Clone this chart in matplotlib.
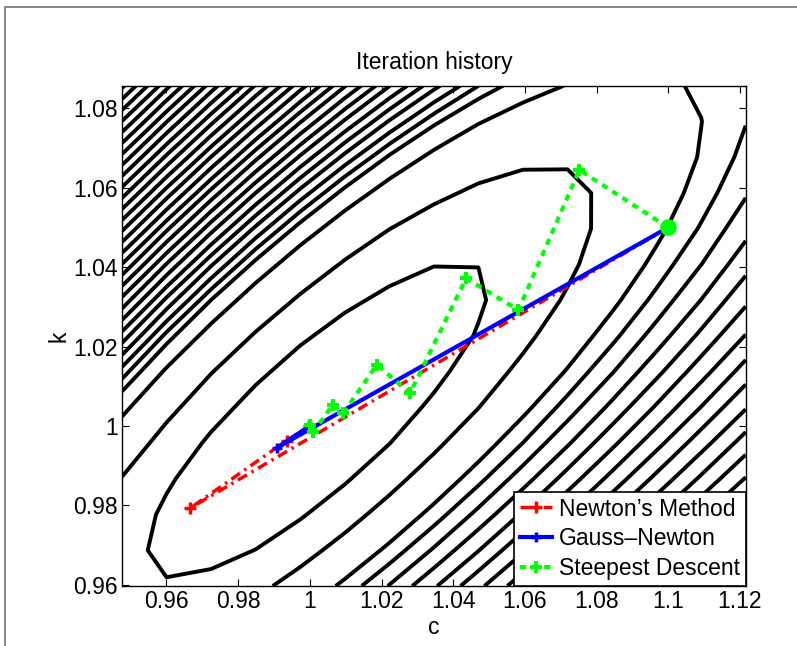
import numpy as np
import matplotlib
matplotlib.use('Agg')
import matplotlib.pyplot as plt
from matplotlib.patches import Rectangle

plt.rcParams['font.family'] = ['Liberation Sans', 'DejaVu Sans']

# iteration histories (c, k)
newton_c = [1.1, 0.9666, 0.9935, 0.9999, 1.0]
newton_k = [1.05, 0.9793, 0.9963, 1.0, 1.0]
gn_c = [1.1, 0.9908, 0.9998, 1.0]
gn_k = [1.05, 0.9945, 0.9999, 1.0]
sd_c = [1.1, 1.0752, 1.0582, 1.0436, 1.028, 1.0187, 1.0093, 1.0064, 1.001, 1.0]
sd_k = [1.05, 1.0645, 1.0292, 1.0372, 1.0083, 1.0154, 1.0032, 1.0053, 0.9986, 1.0003]

# k where the contour lines meet the left edge of the plot
edge_k = [0.99575, 0.99902, 1.00229, 1.00556, 1.00871, 1.01186, 1.01488, 1.0179,
          1.02092, 1.02381, 1.02671, 1.0296, 1.0325, 1.03527, 1.03804, 1.04081,
          1.04357, 1.04634, 1.04911, 1.05188, 1.05465, 1.05742, 1.06019, 1.06296,
          1.06573, 1.0685, 1.07126, 1.07403, 1.0768, 1.07957, 1.08234, 1.08511]
# points on the inner contour and on the one through the start point
inner_pt = (0.9535, 0.969)
start_pt = (1.1, 1.05)

c_lim = (0.9476, 1.1216)
k_lim = (0.9597, 1.0857)
x_ticks = [0.96, 0.98, 1.0, 1.02, 1.04, 1.06, 1.08, 1.1, 1.12]
x_labels = ['0.96', '0.98', '1', '1.02', '1.04', '1.06', '1.08', '1.1', '1.12']
y_ticks = [0.96, 0.98, 1.0, 1.02, 1.04, 1.06, 1.08]
y_labels = ['0.96', '0.98', '1', '1.02', '1.04', '1.06', '1.08']


# spring model x'' + c x' + k x = 0, x(0)=2, x'(0)=0
def spring(c, k, t):
    w = np.sqrt(np.maximum(k - c**2 / 4, 1e-9))
    return np.exp(-c * t / 2) * (2 * np.cos(w * t) + c / w * np.sin(w * t))


t = np.linspace(0, 5, 200)
data = spring(1.0, 1.0, t)
cc = np.linspace(c_lim[0], c_lim[1], 15)
kk = np.linspace(k_lim[0], k_lim[1], 15)
C, K = np.meshgrid(cc, kk)
J = ((spring(C[..., None], K[..., None], t) - data)**2).sum(-1)

j1 = ((spring(*inner_pt, t) - data)**2).sum()
j3 = ((spring(*start_pt, t) - data)**2).sum()
j2 = j1 + 0.85 * (j3 - j1) / 2
edge_J = np.interp(edge_k, kk, J[:, 0])
far = [v for v in edge_J if v > 1.15 * j3]

# upper-left side of the valley is steeper than the lower-right side
side = (K - 1) - 1.02 * (C - 1)
J_up = np.ma.masked_where(side < 0, J)
J_lo = np.ma.masked_where(side > 0, J)

fig = plt.figure(figsize=(7.97, 6.46), dpi=100)
ax = fig.add_axes([0.1531, 0.0929, 0.7825, 0.7744])
ax.contour(C, K, J, [j1, j2, j3], colors='k', linewidths=2.8)
ax.contour(C, K, J_up, far, colors='k', linewidths=2.8)
ax.contour(C, K, J_lo, far[::2], colors='k', linewidths=2.8)

ax.plot(newton_c, newton_k, color='r', ls=(0, (3, 1.5, 0.7, 1.5)), lw=2.5,
        marker='+', ms=8, mew=2.5, label='Newton\u2019s Method', zorder=3)
ax.plot(gn_c, gn_k, color='b', ls='-', lw=3, marker='+', ms=7, mew=2.5,
        label='Gauss\u2013Newton', zorder=4)
ax.plot(sd_c, sd_k, color=(0, 1, 0), ls=(0, (1.5, 1.4)), lw=3, marker='+',
        ms=9, mew=3, label='Steepest Descent', zorder=5)
ax.plot(sd_c[0], sd_k[0], 'o', color=(0, 1, 0), ms=11, zorder=6)

ax.set_xlim(c_lim)
ax.set_ylim(k_lim)
ax.set_xticks(x_ticks)
ax.set_xticklabels(x_labels)
ax.set_yticks(y_ticks)
ax.set_yticklabels(y_labels)
ax.tick_params(direction='in', length=5, width=0.8, labelsize=16.5, pad=3,
               top=True, right=True)
for s in ax.spines.values():
    s.set_linewidth(1.0)
ax.set_title('Iteration history', fontsize=16.5, pad=12)
ax.set_xlabel('c', fontsize=16.5, labelpad=2)
ax.set_ylabel('k', fontsize=16.5, labelpad=2)

leg = ax.legend(loc='lower right', fontsize=16.5, borderaxespad=0, fancybox=False,
                framealpha=1, edgecolor='k', handlelength=1.4, handletextpad=0.3,
                labelspacing=0.3, borderpad=0.25)
leg.get_frame().set_linewidth(1.2)

fig.add_artist(Rectangle((5 / 797, -0.1), 1.2, (646 - 7) / 646 + 0.1,
                         transform=fig.transFigure, fill=False,
                         edgecolor='0.45', lw=1.2))
fig.savefig('out.png', dpi=100)
